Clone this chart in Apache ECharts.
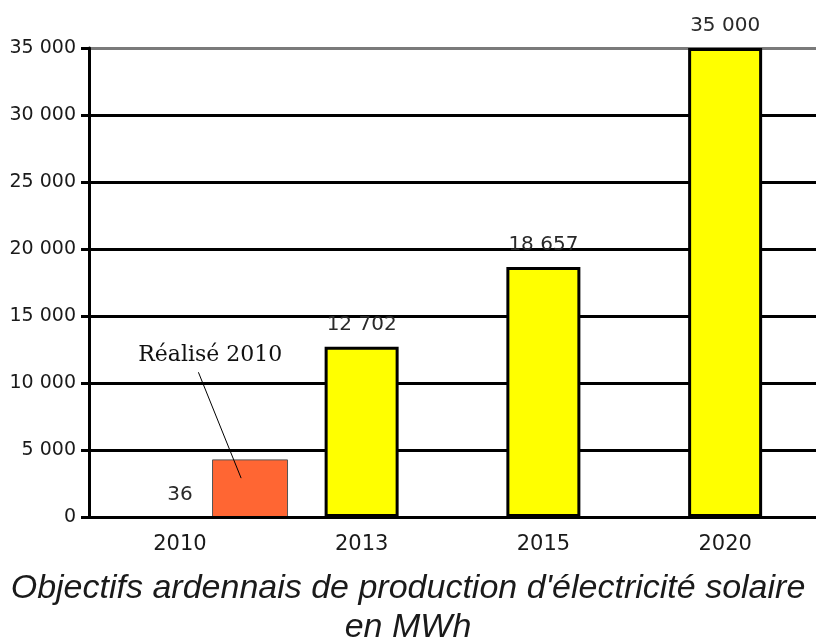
<!DOCTYPE html>
<html><head><meta charset="utf-8">
<script src="https://cdn.jsdelivr.net/npm/echarts@6/dist/echarts.min.js"></script>
<style>html,body{margin:0;padding:0;background:#fff}#c{width:816px;height:637px}</style>
</head><body><div id="c"></div>
<script>
const categories = ['2010', '2013', '2015', '2020'];
const objectifs = [36, 12702, 18657, 35000];
const realisePos = [0.886];      // position of the 'Réalisé 2010' bar, in category units
const realiseValue = [4300];
const annotationText = 'Réalisé 2010';
const yTicks = [0, 5000, 10000, 15000, 20000, 25000, 30000, 35000];
const titleText = "Objectifs ardennais de production d'électricité solaire\nen MWh";

const fmt = v => String(v).replace(/\B(?=(\d{3})+(?!\d))/g, ' ');
const chart = echarts.init(document.getElementById('c'));
chart.setOption({
  animation: false,
  backgroundColor: '#fff',
  title: {
    text: titleText, left: 'center', top: 564,
    textStyle: {fontFamily: 'Liberation Sans', fontStyle: 'italic', fontWeight: 'normal', fontSize: 34, lineHeight: 39, color: '#1a1a1a'}
  },
  grid: {left: 89, top: 48, width: 731, height: 469, containLabel: false},
  xAxis: [
    {type: 'category', data: categories,
     axisLine: {show: true, lineStyle: {color: '#000', width: 3}},
     axisTick: {show: false},
     axisLabel: {fontFamily: 'DejaVu Sans', fontSize: 21, color: '#1a1a1a', margin: 17},
     z: 5},
    {type: 'value', min: 0, max: categories.length, show: false}
  ],
  yAxis: {
    type: 'value', min: yTicks[0], max: yTicks[yTicks.length - 1], interval: 5000,
    axisLine: {show: true, lineStyle: {color: '#000', width: 3}},
    axisTick: {show: true, length: 8, lineStyle: {color: '#000', width: 3}},
    axisLabel: {fontFamily: 'DejaVu Sans', fontSize: 19, color: '#1a1a1a', margin: 13, formatter: fmt},
    splitLine: {show: true, lineStyle: {color: ['#000','#000','#000','#000','#000','#000','#000','#7a7a7a'], width: 3}}
  },
  series: [
    {type: 'bar', name: 'Objectifs', xAxisIndex: 0, barWidth: 74,
     data: objectifs.map((v, i) => i === 0 ? {value: v, itemStyle: {borderWidth: 0, color: 'rgba(0,0,0,0)'}} : v),
     itemStyle: {color: '#ffff00', borderColor: '#000', borderWidth: 3},
     label: {show: true, position: 'top', distance: 12, formatter: p => fmt(p.value),
             fontFamily: 'DejaVu Sans', fontSize: 20, color: '#2a2a2a'},
     z: 3},
    {type: 'bar', name: annotationText, xAxisIndex: 1,
     data: realisePos.map((x, i) => [x, realiseValue[i]]), barWidth: 76,
     itemStyle: {color: '#ff6633', borderColor: '#555', borderWidth: 1},
     z: 3,
     markLine: {silent: true, symbol: 'none', label: {show: false},
       lineStyle: {color: '#000', width: 1, type: 'solid'},
       data: [[{coord: [0.602, 10800]}, {coord: [0.837, 2900]}]]},
     markPoint: {silent: true, symbol: 'circle', symbolSize: 0,
       data: [{coord: [0.667, 12100], value: annotationText}],
       label: {show: true, position: 'inside', formatter: annotationText,
               fontFamily: 'DejaVu Serif', fontSize: 22, color: '#111'}}}
  ]
});
</script></body></html>
